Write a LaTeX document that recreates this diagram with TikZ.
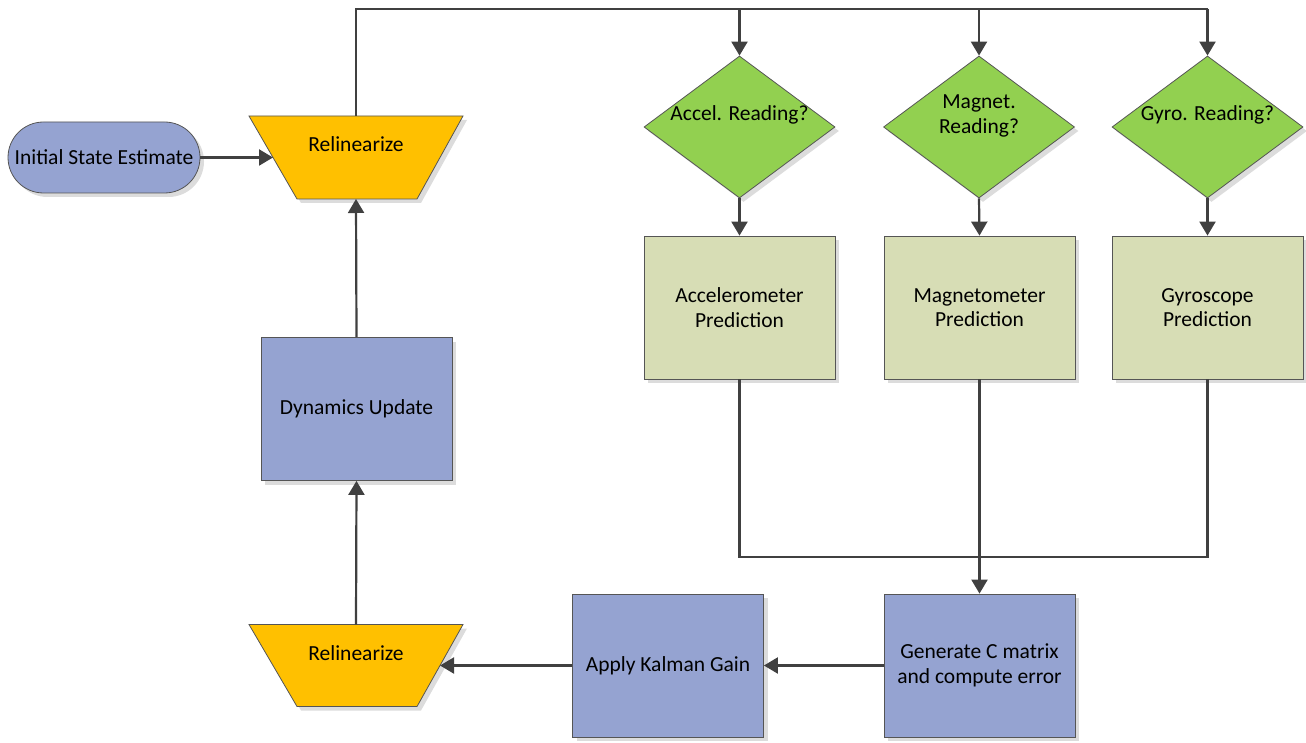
\documentclass[tikz,border=0pt]{standalone}
\usepackage{fontspec}
\setmainfont{Carlito}
\usetikzlibrary{arrows.meta,shapes.geometric,shapes.misc,shadows,calc}
\definecolor{blueF}{HTML}{95A3D1}
\definecolor{greenF}{HTML}{92D050}
\definecolor{oliveF}{HTML}{D7DDB5}
\definecolor{orangeF}{HTML}{FFC000}
\definecolor{lineC}{HTML}{404040}
\definecolor{borderC}{HTML}{555555}
\definecolor{shadowC}{HTML}{DCDCDC}
\begin{document}
\begin{tikzpicture}[x=1pt,y=-1pt,
  font=\fontsize{21.5}{24.5}\selectfont,
  shd/.style={drop shadow={shadow xshift=4pt,shadow yshift=-4pt,fill=shadowC,opacity=1}},
  box/.style={draw=borderC,line width=0.8pt,minimum width=191pt,minimum height=143pt,align=center,inner sep=0pt,shd},
  bluebox/.style={box,fill=blueF},
  predbox/.style={box,fill=oliveF},
  decision/.style={diamond,draw=borderC,line width=0.8pt,fill=greenF,minimum width=191pt,minimum height=142pt,inner sep=0pt,shd},
  txt/.style={align=center,inner sep=0pt},
  conn/.style={draw=lineC,line width=2.2pt,-{Triangle[length=14pt,width=16pt]}},
  plain/.style={draw=lineC,line width=2.2pt}]
\useasboundingbox (0,0) rectangle (1306,743);

% initial
\node[rounded rectangle,draw=borderC,line width=0.8pt,fill=blueF,minimum width=192pt,minimum height=71pt,inner sep=0pt,shd] (init) at (104,157.5) {Initial State Estimate};

% top trapezoid
\coordinate (ta1) at (249,116); \coordinate (ta2) at (463,116);
\coordinate (ta3) at (417,199); \coordinate (ta4) at (297,199);
\fill[shadowC] ($(ta1)+(4,4)$) -- ($(ta2)+(4,4)$) -- ($(ta3)+(4,4)$) -- ($(ta4)+(4,4)$) -- cycle;
\filldraw[draw=borderC,line width=0.8pt,fill=orangeF] (ta1) -- (ta2) -- (ta3) -- (ta4) -- cycle;
\node[txt] (relA) at (356,144) {Relinearize};
\coordinate (relAtop) at (356,116);
\coordinate (relAbot) at (356,199);
\coordinate (relAin) at ($(ta1)!0.5!(ta4)$);

% bottom trapezoid
\coordinate (tb1) at (249,624.5); \coordinate (tb2) at (463,624.5);
\coordinate (tb3) at (417,706.5); \coordinate (tb4) at (297,706.5);
\fill[shadowC] ($(tb1)+(4,4)$) -- ($(tb2)+(4,4)$) -- ($(tb3)+(4,4)$) -- ($(tb4)+(4,4)$) -- cycle;
\filldraw[draw=borderC,line width=0.8pt,fill=orangeF] (tb1) -- (tb2) -- (tb3) -- (tb4) -- cycle;
\node[txt] (relB) at (356,653) {Relinearize};
\coordinate (relBtop) at (356,624.5);
\coordinate (relBin) at ($(tb2)!0.5!(tb3)$);

% boxes
\node[bluebox] (dyn) at (356.5,409) {Dynamics Update};
\node[bluebox] (kal) at (668,665.5) {Apply Kalman Gain};
\node[bluebox] (gen) at (979.5,665.5) {Generate C matrix\\and compute error};

\node[decision] (accD) at (739.5,127) {};
\node[decision] (magD) at (979,127) {};
\node[decision] (gyrD) at (1207.5,127) {};
\node[txt] (accT) at (739.5,115) {Accel. Reading?};
\node[txt] (magT) at (979,116) {Magnet.\\Reading?};
\node[txt] (gyrT) at (1207.5,115) {Gyro. Reading?};

\node[predbox] (accP) at (739.5,307.5) {Accelerometer\\Prediction};
\node[predbox] (magP) at (979.5,307.5) {Magnetometer\\Prediction};
\node[predbox] (gyrP) at (1207.5,307.5) {Gyroscope\\Prediction};

% connectors
\draw[conn] (init.east) -- (relAin);
\draw[conn] (dyn.north) -- (relAbot);
\draw[conn] (relBtop) -- (dyn.south);
\draw[conn] (kal.west) -- (relBin);
\draw[conn] (gen.west) -- (kal.east);

\coordinate (busL) at (356,9);
\coordinate (busR) at (1207.5,9);
\draw[plain] (relAtop) -- (busL) -- (busR);
\draw[conn] (accD.north |- busL) -- (accD.north);
\draw[conn] (magD.north |- busL) -- (magD.north);
\draw[conn] (busR) -- (gyrD.north);

\draw[conn] (accD.south) -- (accP.north);
\draw[conn] (magD.south) -- (magP.north);
\draw[conn] (gyrD.south) -- (gyrP.north);

\coordinate (mergeL) at (739.5,557);
\coordinate (mergeR) at (1207.5,557);
\coordinate (mergeM) at (979.5,557);
\draw[plain] (accP.south) -- (mergeL) -- (mergeR) -- (gyrP.south);
\draw[plain] (magP.south) -- (mergeM);
\draw[conn] (mergeM) -- (gen.north);
\end{tikzpicture}
\end{document}
